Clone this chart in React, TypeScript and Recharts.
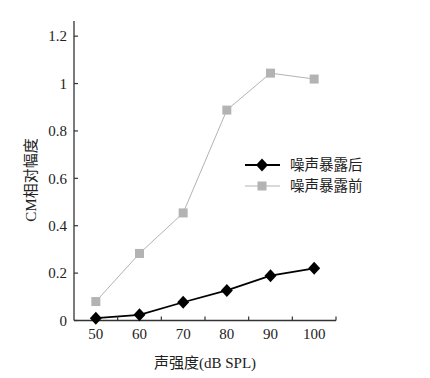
import { LineChart, Line, XAxis, YAxis, Legend } from "recharts";

const levels = [50, 60, 70, 80, 90, 100];
const afterNoise = [0.01, 0.024, 0.077, 0.127, 0.189, 0.22];
const beforeNoise = [0.08, 0.283, 0.454, 0.888, 1.044, 1.019];
const xTicks = [50, 55, 60, 65, 70, 75, 80, 85, 90, 95, 100, 105];
const yTicks = [0, 0.2, 0.4, 0.6, 0.8, 1, 1.2];

const data = levels.map((x, i) => ({
  x,
  after: afterNoise[i],
  before: beforeNoise[i],
}));

const SERIF = '"Liberation Serif", "Noto Sans CJK SC", serif';
const AXIS = "#333";
const GRAY = "#b3b3b3";

function Diamond(p: any) {
  const { cx, cy } = p;
  if (cx == null || cy == null) return <g />;
  return (
    <path
      d={`M${cx},${cy - 6.5}L${cx + 6},${cy}L${cx},${cy + 6.5}L${cx - 6},${cy}Z`}
      fill="#000"
    />
  );
}

function Square(p: any) {
  const { cx, cy } = p;
  if (cx == null || cy == null) return <g />;
  return <rect x={cx - 4.5} y={cy - 4.5} width={9} height={9} fill={GRAY} />;
}

function XTick(p: any) {
  const { x, y, payload } = p;
  const v = payload.value;
  if (v % 10 === 5) {
    return <line x1={x} x2={x} y1={y} y2={y - 4} stroke={AXIS} strokeWidth={1.2} />;
  }
  return (
    <text x={x} y={y + 18} textAnchor="middle" fontSize={15} fontFamily={SERIF} fill="#222">
      {v}
    </text>
  );
}

function LegendBox() {
  const rows = [
    { name: "噪声暴露后", color: "#000", width: 1.8, mark: "diamond" },
    { name: "噪声暴露前", color: GRAY, width: 1, mark: "square" },
  ];
  return (
    <svg width={140} height={50}>
      {rows.map((r, i) => {
        const cy = 10 + i * 21;
        return (
          <g key={r.name}>
            <line x1={0} x2={35} y1={cy} y2={cy} stroke={r.color} strokeWidth={r.width} />
            {r.mark === "diamond" ? (
              <Diamond cx={17} cy={cy} />
            ) : (
              <Square cx={17} cy={cy} />
            )}
            <text
              x={45}
              y={cy}
              dominantBaseline="central"
              fontSize={14.5}
              fontFamily={SERIF}
              fill="#222"
            >
              {r.name}
            </text>
          </g>
        );
      })}
    </svg>
  );
}

export default function App() {
  return (
    <div style={{ position: "absolute", left: 0, top: 0, background: "#fff" }}>
      <LineChart
        width={430}
        height={378}
        data={data}
        margin={{ top: 21, right: 94, bottom: 0, left: 0 }}
      >
        <XAxis
          dataKey="x"
          type="number"
          domain={[45, 105]}
          ticks={xTicks}
          interval={0}
          tickLine={false}
          tickSize={0}
          tickMargin={0}
          tick={<XTick />}
          height={57.5}
          axisLine={{ stroke: AXIS, strokeWidth: 1.3 }}
          label={(props: any) => {
            const vb = props.viewBox || {};
            return (
              <text
                x={vb.x + vb.width / 2}
                y={363}
                textAnchor="middle"
                dominantBaseline="central"
                fontSize={15}
                fontFamily={SERIF}
                fill="#222"
              >
                声强度(dB SPL)
              </text>
            );
          }}
        />
        <YAxis
          type="number"
          domain={[0, 1.264]}
          ticks={yTicks}
          interval={0}
          width={74}
          tickSize={-4}
          tickMargin={11}
          tickLine={{ stroke: AXIS, strokeWidth: 1.2 }}
          axisLine={{ stroke: AXIS, strokeWidth: 1.3 }}
          tick={{ fontSize: 15, fontFamily: SERIF, fill: "#222" }}
          label={() => (
            <text
              x={31}
              y={180}
              transform="rotate(-90, 31, 180)"
              textAnchor="middle"
              dominantBaseline="central"
              fontSize={15}
              fontFamily={SERIF}
              fill="#222"
            >
              CM相对幅度
            </text>
          )}
        />
        <Legend
          layout="horizontal"
          verticalAlign="middle"
          align="center"
          content={() => <LegendBox />}
          wrapperStyle={{ left: 245, top: 155, width: 140, height: 50 }}
        />
        <Line
          dataKey="before"
          stroke={GRAY}
          strokeWidth={1}
          dot={<Square />}
          activeDot={false}
          isAnimationActive={false}
        />
        <Line
          dataKey="after"
          stroke="#000"
          strokeWidth={1.8}
          dot={<Diamond />}
          activeDot={false}
          isAnimationActive={false}
        />
      </LineChart>
    </div>
  );
}
